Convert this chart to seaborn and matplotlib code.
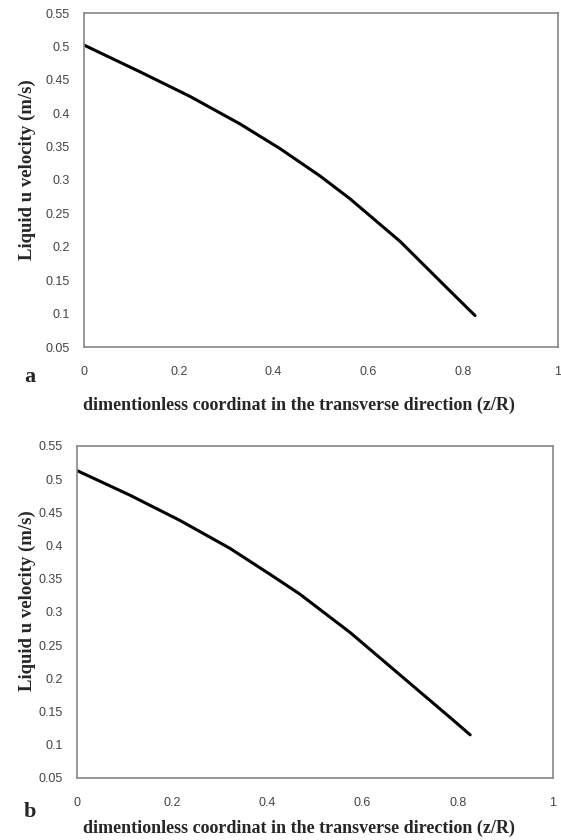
import matplotlib
matplotlib.use("Agg")
import matplotlib.pyplot as plt
import seaborn as sns
import pandas as pd

# Panel a data
xa = [0.0, 0.118, 0.224, 0.329, 0.4135, 0.498, 0.561, 0.667, 0.772, 0.825]
ya = [0.502, 0.462, 0.425, 0.384, 0.347, 0.306, 0.272, 0.208, 0.134, 0.097]
# Panel b data
xb = [0.0, 0.111, 0.216, 0.321, 0.405, 0.468, 0.574, 0.679, 0.784, 0.826]
yb = [0.513, 0.476, 0.438, 0.396, 0.357, 0.327, 0.269, 0.205, 0.141, 0.115]

xticks = [0, 0.2, 0.4, 0.6, 0.8, 1]
xticklabels = ["0", "0.2", "0.4", "0.6", "0.8", "1"]
yticks = [0.05, 0.1, 0.15, 0.2, 0.25, 0.3, 0.35, 0.4, 0.45, 0.5, 0.55]
yticklabels = ["0.05", "0.1", "0.15", "0.2", "0.25", "0.3", "0.35", "0.4", "0.45", "0.5", "0.55"]

xlabel = "dimentionless coordinat in the transverse direction (z/R)"
ylabel = "Liquid u velocity (m/s)"
panel_labels = ["a", "b"]

sns.set_style("white")
plt.rcParams['font.family'] = ['Liberation Sans', 'DejaVu Sans']

fig = plt.figure(figsize=(5.61, 8.40), dpi=100)
W, H = 561, 840

layouts = [
    dict(l=84, t=13, r=558, b=347, xl_y=405, pl_y=377, yl_c=170),
    dict(l=77, t=446, r=553, b=778, xl_y=828, pl_y=812, yl_c=601),
]
datasets = [(xa, ya), (xb, yb)]

for i, (lay, (xs, ys)) in enumerate(zip(layouts, datasets)):
    ax = fig.add_axes([lay['l'] / W, 1 - lay['b'] / H,
                       (lay['r'] - lay['l']) / W, (lay['b'] - lay['t']) / H])
    df = pd.DataFrame({"x": xs, "y": ys})
    sns.lineplot(data=df, x="x", y="y", ax=ax, color="black", linewidth=2.2)
    for ln in ax.lines:
        ln.set_solid_joinstyle('round')
        ln.set_solid_capstyle('round')
    ax.set_xlim(0, 1)
    ax.set_ylim(0.05, 0.55)
    ax.set_xticks(xticks)
    ax.set_xticklabels(xticklabels)
    ax.set_yticks(yticks)
    ax.set_yticklabels(yticklabels)
    ax.tick_params(axis='both', length=0, labelsize=9, colors='#444444')
    ax.tick_params(axis='x', pad=14)
    ax.tick_params(axis='y', pad=10)
    ax.set_xlabel("")
    ax.set_ylabel("")
    for s in ax.spines.values():
        s.set_color('#888888')
        s.set_linewidth(1.2)
    fig.text(299 / W, 1 - lay['xl_y'] / H, xlabel, ha='center', va='center',
             fontsize=13, fontweight='bold', family=['Liberation Serif'])
    fig.text(27 / W, 1 - lay['yl_c'] / H, ylabel, ha='center', va='center',
             rotation=90, fontsize=13.5, fontweight='bold', family=['Liberation Serif'])
    fig.text(30 / W, 1 - lay['pl_y'] / H, panel_labels[i], ha='center', va='center',
             fontsize=16, fontweight='bold', family=['Liberation Serif'])

fig.savefig("out.png", dpi=100)
